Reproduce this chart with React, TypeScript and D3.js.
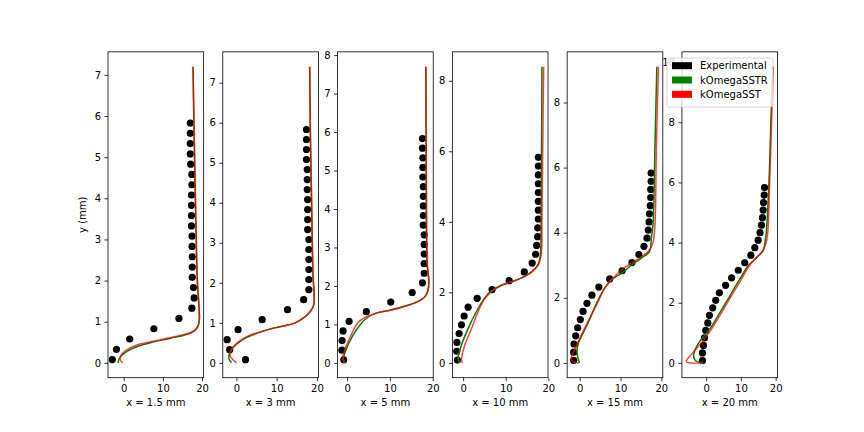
import React, { useEffect, useRef } from "react";
import * as d3 from "d3";

type Pt = [number, number];

const stations = ["x = 1.5 mm", "x = 3 mm", "x = 5 mm", "x = 10 mm", "x = 15 mm", "x = 20 mm"];
const seriesNames = ["Experimental", "kOmegaSSTR", "kOmegaSST"];
const seriesColors = ["#000000", "#008000", "#ff0000"];

// measurement heights (mm), same for every station
const expY = [0.08, 0.33, 0.58, 0.83, 1.08, 1.33, 1.58, 1.83, 2.08, 2.33, 2.58, 2.83,
  3.08, 3.33, 3.58, 3.83, 4.08, 4.33, 4.58, 4.83, 5.08, 5.33, 5.58, 5.83];

const exp15 = [-2.9, -1.86, 1.53, 7.7, 14.1, 17.4, 18.0, 17.8, 17.5, 17.5, 17.5, 17.45,
  17.45, 17.3, 17.3, 17.3, 17.3, 17.4, 17.4, 17.1, 17.0, 17.0, 17.0, 17.0];
const exp3 = [2.26, -1.67, -2.3, 0.42, 6.4, 12.7, 16.7, 18.0, 18.0, 18.0, 18.0, 18.0,
  18.0, 17.7, 17.7, 17.7, 17.7, 17.6, 17.6, 17.6, 17.4, 17.4, 17.4, 17.4];
const exp5 = [-0.78, -1.2, -1.17, -0.94, 0.47, 4.5, 10.2, 15.2, 17.6, 18.0, 18.0, 18.0,
  18.0, 18.0, 17.8, 17.8, 17.8, 17.8, 17.8, 17.7, 17.7, 17.7, 17.6, 17.6];
const exp10 = [-1.33, -1.5, -1.45, -0.94, -0.39, 0.24, 1.18, 3.3, 6.8, 10.8, 14.35, 16.2,
  17.0, 17.25, 17.5, 17.5, 17.65, 17.65, 17.65, 17.65, 17.65, 17.65, 17.65, 17.65];
const exp15mm = [-1.47, -1.47, -1.39, -0.98, -0.49, 0.16, 0.82, 1.8, 3.0, 4.7, 7.35, 10.4,
  12.8, 14.5, 15.75, 16.5, 16.8, 17.0, 17.1, 17.3, 17.4, 17.4, 17.5, 17.5];
const exp20 = [-1.05, -1.05, -0.76, -0.48, -0.1, 0.48, 0.95, 1.9, 2.76, 3.8, 5.6, 7.33,
  9.24, 11.1, 12.86, 14.0, 14.95, 15.5, 15.9, 16.2, 16.4, 16.5, 16.7, 16.8];

// simulated profiles [u, y]
const sstr15: Pt[] = [[-1.4, 0], [-1.2, 0.1], [-0.3, 0.2], [1.2, 0.3], [3.8, 0.41], [7.2, 0.5], [12.0, 0.6],
  [16.0, 0.69], [18.0, 0.78], [18.9, 0.88], [19.3, 1.04], [19.2, 1.4], [18.8, 2.0], [18.3, 4.0], [17.9, 6.0], [17.7, 7.2]];
const sst15: Pt[] = [[-0.2, 0], [-0.9, 0.08], [-0.6, 0.2], [0.7, 0.31], [3.2, 0.43], [6.6, 0.51], [11.7, 0.61],
  [15.9, 0.7], [18.0, 0.78], [18.9, 0.88], [19.3, 1.04], [19.2, 1.4], [18.8, 2.0], [18.3, 4.0], [17.9, 6.0], [17.7, 7.2]];

const sstr3: Pt[] = [[-1.25, 0], [-1.85, 0.12], [-1.5, 0.29], [0.2, 0.48], [2.5, 0.63], [5.4, 0.75], [8.6, 0.85],
  [11.7, 0.92], [14.6, 1.0], [16.3, 1.1], [17.7, 1.21], [18.8, 1.35], [19.3, 1.5], [19.0, 2.25], [18.7, 3.92], [18.4, 5.58], [18.2, 7.4]];
const sst3: Pt[] = [[0, 0], [-1.5, 0.17], [-1.25, 0.33], [0, 0.48], [2.1, 0.63], [5.0, 0.75], [8.4, 0.85],
  [11.7, 0.92], [14.6, 1.0], [16.3, 1.1], [17.7, 1.21], [18.8, 1.35], [19.3, 1.5], [19.0, 2.25], [18.7, 3.92], [18.4, 5.58], [18.2, 7.4]];

const sstr5: Pt[] = [[-0.6, 0], [-0.9, 0.08], [-0.55, 0.25], [1.0, 0.64], [3.1, 1.0], [4.8, 1.18], [7.0, 1.3],
  [10.0, 1.37], [13.1, 1.46], [16.2, 1.58], [18.0, 1.7], [18.8, 1.85], [19.1, 2.1], [18.7, 2.6], [18.5, 4.8], [18.4, 7.7]];
const sst5: Pt[] = [[-0.2, 0], [-0.9, 0.08], [-0.8, 0.25], [0.6, 0.64], [2.6, 1.05], [4.5, 1.2], [7.0, 1.3],
  [10.0, 1.37], [13.1, 1.46], [16.2, 1.58], [18.0, 1.7], [18.8, 1.85], [19.1, 2.1], [18.7, 2.6], [18.5, 4.8], [18.4, 7.7]];

const sstr10: Pt[] = [[-0.8, 0], [-1.2, 0.13], [-0.4, 0.5], [1.2, 0.98], [3.1, 1.45], [5.0, 1.83], [6.4, 2.02],
  [9.0, 2.2], [11.4, 2.3], [13.7, 2.41], [16.1, 2.58], [17.5, 2.77], [18.1, 3.05], [18.3, 4.3], [18.4, 6.2], [18.5, 8.4]];
const sst10: Pt[] = [[-0.1, 0], [-0.4, 0.08], [0.4, 0.5], [2.0, 0.98], [3.5, 1.45], [5.1, 1.83], [6.7, 2.02],
  [9.0, 2.2], [11.4, 2.3], [13.7, 2.41], [16.1, 2.58], [17.6, 2.77], [18.3, 3.05], [18.5, 4.3], [18.7, 6.2], [18.9, 8.4]];

const sstr15mm: Pt[] = [[0, 0], [-0.4, 0.13], [-0.65, 0.39], [-0.2, 0.64], [1.8, 1.16], [4.1, 1.82], [6.1, 2.29],
  [7.75, 2.55], [10.2, 2.75], [12.65, 3.0], [15.1, 3.22], [17.1, 3.42], [17.55, 3.83], [17.96, 4.24], [18.45, 6.7], [18.9, 9.1]];
const sst15mm: Pt[] = [[-0.2, 0], [-1.8, 0.05], [-2.0, 0.18], [-1.2, 0.39], [-0.4, 0.64], [1.6, 1.16], [4.1, 1.77],
  [6.1, 2.29], [8.2, 2.6], [10.2, 2.85], [12.65, 3.06], [15.1, 3.26], [17.1, 3.47], [17.9, 3.67], [18.4, 4.14], [18.8, 6.7], [19.3, 9.1]];

const sstr20: Pt[] = [[-0.8, 0], [-3.1, 0.08], [-3.6, 0.24], [-3.1, 0.46], [-1.7, 0.74], [1.1, 1.13], [4.0, 1.68],
  [6.9, 2.24], [9.7, 2.79], [12.1, 3.23], [14.5, 3.5], [16.4, 3.73], [16.9, 4.0], [17.3, 4.34], [18.1, 6.1], [18.7, 8.3], [19.2, 9.85]];
const sst20: Pt[] = [[-1.2, 0], [-5.7, 0.04], [-4.1, 0.3], [-1.2, 0.69], [1.6, 1.13], [4.5, 1.68], [7.3, 2.24],
  [10.2, 2.79], [12.1, 3.18], [14.0, 3.45], [15.9, 3.68], [17.0, 3.9], [17.5, 4.12], [17.8, 4.45], [18.3, 6.1], [18.9, 8.3], [19.3, 9.85]];

const xTicks = [0, 10, 20];
const yTicksSmall = [0, 1, 2, 3, 4, 5, 6, 7];
const yTicksSmall8 = [0, 1, 2, 3, 4, 5, 6, 7, 8];
const yTicksLarge = [0, 2, 4, 6, 8];
const yTicksLarge10 = [0, 2, 4, 6, 8, 10];

const expSets = [exp15, exp3, exp5, exp10, exp15mm, exp20];
const sstrSets = [sstr15, sstr3, sstr5, sstr10, sstr15mm, sstr20];
const sstSets = [sst15, sst3, sst5, sst10, sst15mm, sst20];
const yTickSets = [yTicksSmall, yTicksSmall, yTicksSmall8, yTicksLarge, yTicksLarge, yTicksLarge10];

const FONT = "DejaVu Sans, Liberation Sans, sans-serif";

const App: React.FC = () => {
  const svgRef = useRef<SVGSVGElement | null>(null);

  useEffect(() => {
    const width = 864;
    const height = 432;
    const left = 108;
    const right = 777.6;
    const top = 51.84;
    const bottom = 377.7;
    const n = stations.length;
    const wspace = 0.2;
    const pw = (right - left) / (n + (n - 1) * wspace);
    const gap = pw * wspace;
    const ph = bottom - top;

    const svg = d3.select(svgRef.current).attr("width", width).attr("height", height);
    svg.selectAll("*").remove();

    const pad = (lo: number, hi: number): [number, number] => {
      const r = hi - lo;
      return [lo - 0.05 * r, hi + 0.05 * r];
    };

    stations.forEach((label, i) => {
      const ex = expSets[i];
      const l1 = sstrSets[i];
      const l2 = sstSets[i];
      const allX = [...ex, ...l1.map((d) => d[0]), ...l2.map((d) => d[0])];
      const allY = [...expY, ...l1.map((d) => d[1]), ...l2.map((d) => d[1])];

      const x = d3.scaleLinear().domain(pad(d3.min(allX)!, d3.max(allX)!)).range([0, pw]);
      const y = d3.scaleLinear().domain(pad(d3.min(allY)!, d3.max(allY)!)).range([ph, 0]);

      const g = svg.append("g").attr("transform", `translate(${left + i * (pw + gap)},${top})`);

      // experimental points
      g.selectAll("circle")
        .data(ex)
        .join("circle")
        .attr("cx", (d) => x(d))
        .attr("cy", (_, j) => y(expY[j]))
        .attr("r", 3.6)
        .attr("fill", seriesColors[0]);

      const line = d3
        .line<Pt>()
        .x((d) => x(d[0]))
        .y((d) => y(d[1]))
        .curve(d3.curveCatmullRom.alpha(0.5));

      g.append("path").datum(l1).attr("fill", "none").attr("stroke", seriesColors[1])
        .attr("stroke-width", 1.5).attr("d", line);
      g.append("path").datum(l2).attr("fill", "none").attr("stroke", seriesColors[2])
        .attr("stroke-opacity", 0.75).attr("stroke-width", 1.5).attr("d", line);

      // axes
      const xa = g.append("g").attr("transform", `translate(0,${ph})`)
        .call(d3.axisBottom(x).tickValues(xTicks).tickFormat(d3.format("d")).tickSizeInner(3.5).tickSizeOuter(0).tickPadding(3.5));
      const ya = g.append("g")
        .call(d3.axisLeft(y).tickValues(yTickSets[i]).tickFormat(d3.format("d")).tickSizeInner(3.5).tickSizeOuter(0).tickPadding(3.5));
      [xa, ya].forEach((a) => {
        a.select(".domain").remove();
        a.selectAll("line").attr("stroke", "#000").attr("stroke-width", 0.8);
        a.selectAll("text").attr("font-family", FONT).attr("font-size", 10).attr("fill", "#000");
      });

      g.append("rect").attr("width", pw).attr("height", ph)
        .attr("fill", "none").attr("stroke", "#000").attr("stroke-width", 0.8);

      g.append("text").attr("x", pw / 2).attr("y", ph + 28.6)
        .attr("text-anchor", "middle").attr("font-family", FONT).attr("font-size", 10)
        .text(label);

      if (i === 0) {
        g.append("text")
          .attr("transform", `translate(-22,${ph / 2}) rotate(-90)`)
          .attr("text-anchor", "middle").attr("font-family", FONT).attr("font-size", 10)
          .text("y (mm)");
      }
    });

    // legend
    const lg = svg.append("g").attr("transform", "translate(667,58)");
    lg.append("rect").attr("width", 106).attr("height", 49).attr("rx", 2.5)
      .attr("fill", "#fff").attr("fill-opacity", 0.8).attr("stroke", "#cccccc").attr("stroke-width", 0.8);
    seriesNames.forEach((name, k) => {
      const cy = 7.7 + k * 14.3;
      lg.append("rect").attr("x", 5).attr("y", cy - 3.5).attr("width", 20).attr("height", 7)
        .attr("fill", seriesColors[k]);
      lg.append("text").attr("x", 33).attr("y", cy).attr("dy", "0.35em")
        .attr("font-family", FONT).attr("font-size", 10).text(name);
    });
  }, []);

  return <svg ref={svgRef} style={{ position: "absolute", left: 0, top: 0, display: "block" }}></svg>;
};

export default App;
